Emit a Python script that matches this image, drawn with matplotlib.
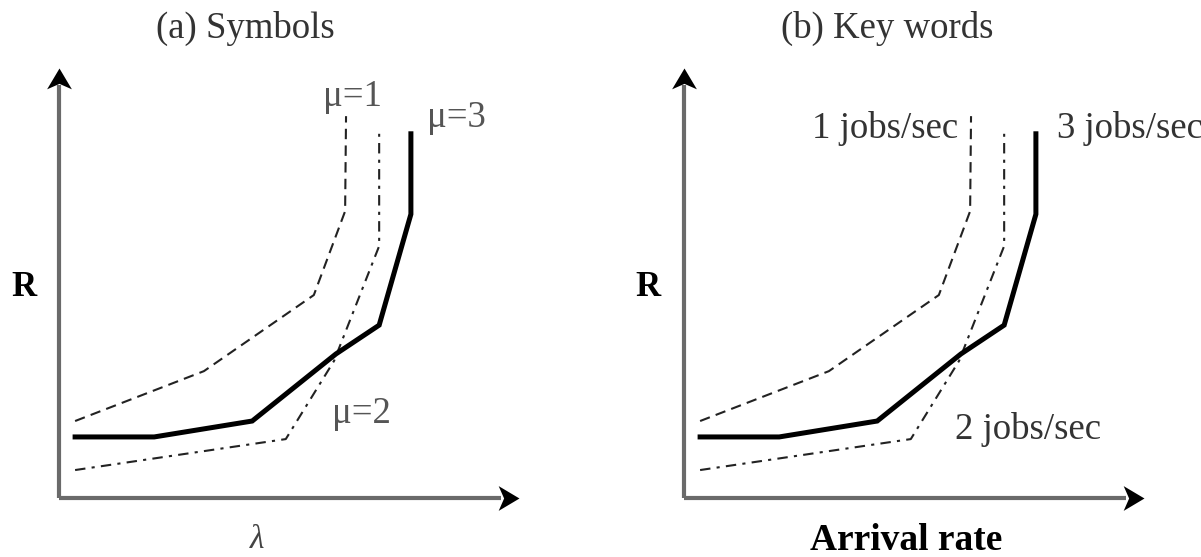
import matplotlib.pyplot as plt
from matplotlib.path import Path

plt.rcParams['font.family'] = ['Liberation Serif', 'DejaVu Serif']

# curve vertices (x, y) in axis units, axes run 0..10
mu1_x = [0.35, 3.15, 5.54, 6.22, 6.24]
mu1_y = [1.79, 2.95, 4.72, 6.67, 8.88]
mu2_x = [0.35, 4.93, 5.98, 6.96, 6.96]
mu2_y = [0.65, 1.37, 3.19, 5.86, 8.47]
mu3_x = [0.35, 2.07, 4.20, 6.02, 6.96, 7.65, 7.65]
mu3_y = [1.42, 1.42, 1.79, 3.35, 4.02, 6.60, 8.47]

titles = ['(a) Symbols', '(b) Key words']
labels_a = ['\u03bc=1', '\u03bc=2', '\u03bc=3']
labels_b = ['1 jobs/sec', '2 jobs/sec', '3 jobs/sec']

W, H = 1201, 557
fig = plt.figure(figsize=(W / 100, H / 100), dpi=100)

px_x, px_y = 46.0, 43.0  # pixels per unit
y0 = 498                   # x axis, pixels from top

# stealth arrowheads with the tip at the origin
head_r = Path([(0, 0), (-1.68, 1), (-1.24, 0), (-1.68, -1), (0, 0)],
              [Path.MOVETO, Path.LINETO, Path.LINETO, Path.LINETO, Path.CLOSEPOLY])
head_u = Path([(0, 0), (-1, -1.68), (0, -1.24), (1, -1.68), (0, 0)],
              [Path.MOVETO, Path.LINETO, Path.LINETO, Path.LINETO, Path.CLOSEPOLY])


def make_ax(left, right, x0):
    ax = fig.add_axes([left / W, 0, (right - left) / W, 1])
    ax.set_xlim(-(x0 - left) / px_x, (right - x0) / px_x)
    ax.set_ylim(-(H - y0) / px_y, y0 / px_y)
    ax.axis('off')
    ax.plot([0, 9.6], [0, 0], color='#6a6a6a', lw=3, solid_capstyle='butt')
    ax.plot([0, 0], [0, 9.6], color='#6a6a6a', lw=3, solid_capstyle='butt')
    ax.plot(10.0, 0, marker=head_r, ms=30, color='black', mew=0)
    ax.plot(0, 10.0, marker=head_u, ms=30, color='black', mew=0)
    # curves
    ax.plot(mu1_x, mu1_y, color='#222222', lw=1.5, ls=(0, (5, 3)))
    ax.plot(mu2_x, mu2_y, color='#222222', lw=1.5, ls=(0, (5, 3, 1.5, 3)))
    ax.plot(mu3_x, mu3_y, color='black', lw=3.6, solid_joinstyle='miter')
    ax.text(-0.5, 4.9, 'R', fontsize=25, fontweight='bold',
            ha='right', va='center')
    return ax


axa = make_ax(0, 600, 59)
axb = make_ax(600, 1201, 684)

fs = 26.5
axa.text(6.37, 9.33, labels_a[0], fontsize=fs, color='#555555', ha='center', va='center')
axa.text(5.93, 1.95, labels_a[1], fontsize=fs, color='#555555', ha='left', va='center')
axa.text(8.0, 8.85, labels_a[2], fontsize=fs, color='#555555', ha='left', va='center')
axa.text(4.3, -1.32, '\u03bb', fontsize=24, style='italic', color='#444444',
         ha='center', va='bottom')

axb.text(5.95, 8.6, labels_b[0], fontsize=fs, color='#333333', ha='right', va='center')
axb.text(5.9, 1.6, labels_b[1], fontsize=fs, color='#333333', ha='left', va='center')
axb.text(8.1, 8.6, labels_b[2], fontsize=fs, color='#333333', ha='left', va='center')
axb.text(4.83, -0.98, 'Arrival rate', fontsize=27, fontweight='bold',
         ha='center', va='center')

fig.text(245 / W, 1 - 28 / H, titles[0], fontsize=fs, color='#333333', ha='center', va='center')
fig.text(887 / W, 1 - 28 / H, titles[1], fontsize=fs, color='#333333', ha='center', va='center')

fig.savefig('out.png', dpi=100)
